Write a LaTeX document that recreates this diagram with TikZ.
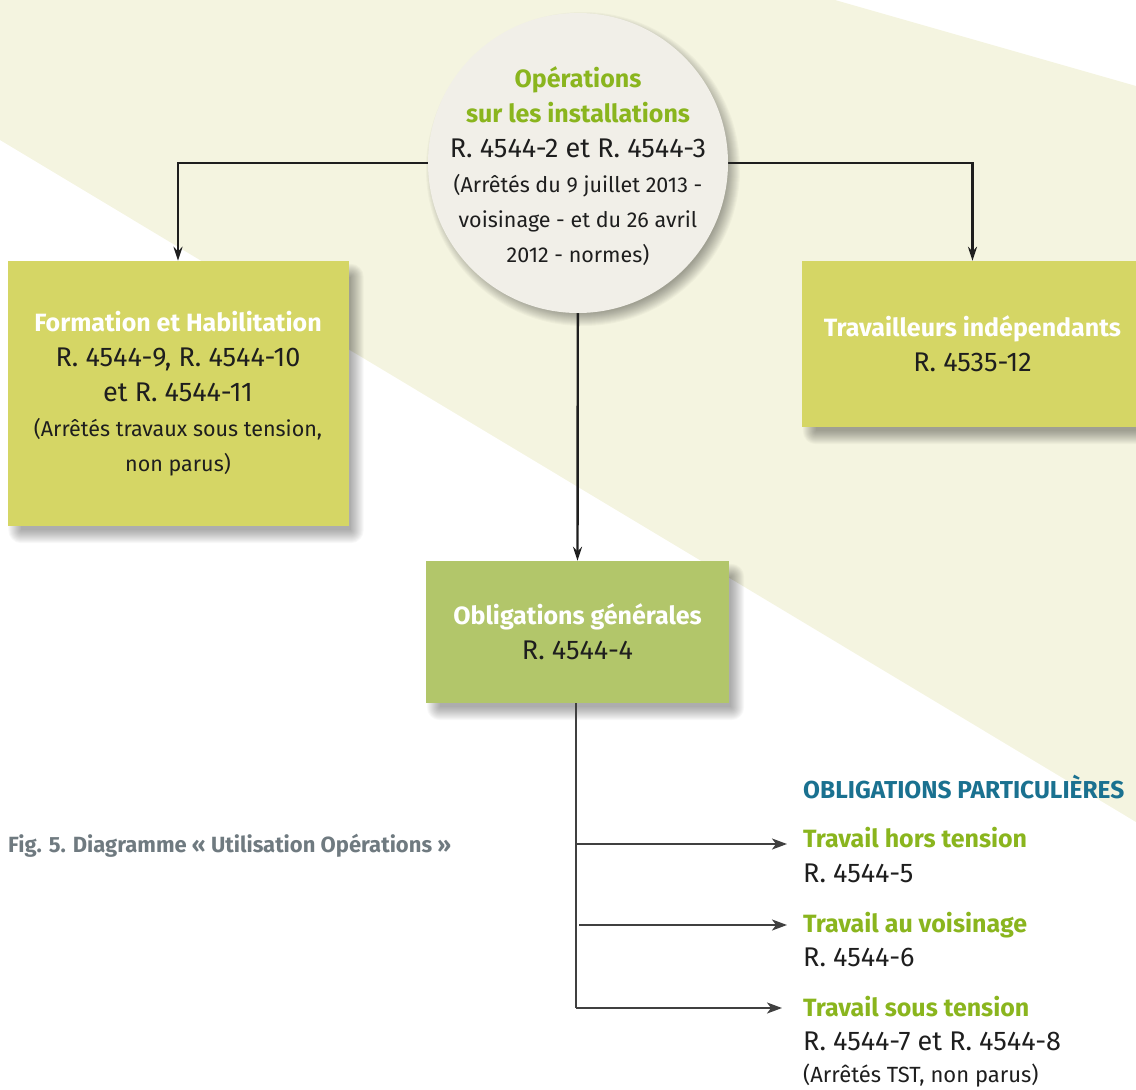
\documentclass[tikz,border=0pt]{standalone}
\usepackage{fontspec}
\setmainfont{Fira Sans}
\usetikzlibrary{arrows.meta,calc}
\definecolor{cream}{HTML}{F4F4E0}
\definecolor{disc}{HTML}{F1EFE8}
\definecolor{boxyellow}{HTML}{D5D665}
\definecolor{boxgreen}{HTML}{B2C66A}
\definecolor{leaf}{HTML}{8AB51E}
\definecolor{petrol}{HTML}{1A7190}
\definecolor{ink}{HTML}{1E1E1E}
\definecolor{slate}{HTML}{6F7A80}
\newcommand\smallnote{\fontsize{21.5}{35}\selectfont}
\pgfdeclarelayer{backdrop}
\pgfdeclarelayer{shade}
\pgfsetlayers{backdrop,shade,main}
\begin{document}
\begin{tikzpicture}[x=1pt,y=-1pt,
  panel/.style={rectangle, inner sep=0pt, text=ink, align=center,
      font=\fontsize{27}{35}\selectfont},
  maintext/.style={inner sep=0pt, text=ink, align=center,
      font=\fontsize{27}{35}\selectfont},
  topline/.style={draw=ink, line width=2.4pt, -{Stealth[length=14pt,width=9pt]}},
  subline/.style={draw=ink!85, line width=2pt},
  subarrow/.style={subline, -{Stealth[length=15pt,width=11pt,inset=4pt]}},
  itemtitle/.style={anchor=base west, inner sep=0pt, text=leaf,
      font=\fontsize{25}{30}\selectfont\bfseries},
  itemref/.style={anchor=base west, inner sep=0pt, text=ink,
      font=\fontsize{27}{30}\selectfont},
  itemnote/.style={anchor=base west, inner sep=0pt, text=ink,
      font=\fontsize{22}{26}\selectfont},
  shadelayer/.style={fill=black, opacity=0.026},
]
\useasboundingbox (0,0) rectangle (1136,1090);
% diagonal background band
\begin{pgfonlayer}{backdrop}
\fill[cream] (0,0) -- (835,0) -- (1136,86) -- (1136,822) -- (0,140) -- cycle;
\end{pgfonlayer}

% boxes
\node[panel, fill=boxyellow, minimum width=341pt, minimum height=265pt] (fh) at (178,393.5)
  {{\fontsize{25}{35}\selectfont\bfseries\color{white}Formation et Habilitation}\\
   R. 4544-9, R. 4544-10\\
   et R. 4544-11\\
   {\smallnote (Arrêtés travaux sous tension,}\\
   {\smallnote non parus)}};
\node[panel, fill=boxyellow, minimum width=341pt, minimum height=166pt] (ti) at (972.5,344)
  {{\fontsize{25}{35}\selectfont\bfseries\color{white}Travailleurs indépendants}\\
   R. 4535-12};
\node[panel, fill=boxgreen, minimum width=303pt, minimum height=142pt] (og) at (577.5,632)
  {{\fontsize{25}{35}\selectfont\bfseries\color{white}Obligations générales}\\
   R. 4544-4};

% connectors from the disc
\draw[topline] (578,163) -| (fh.north);
\draw[topline] (578,163) -| (ti.north);
\draw[topline] (578,163) -- (og.north);

% central disc
\node[circle, fill=disc, minimum size=300pt, inner sep=0pt] (op) at (578,163) {};
\node[maintext] (opt) at (578,166)
  {{\fontsize{25}{35}\selectfont\bfseries\color{leaf}Opérations}\\
   {\fontsize{25}{35}\selectfont\bfseries\color{leaf}sur les installations}\\
   R. 4544-2 et R. 4544-3\\
   {\smallnote (Arrêtés du 9 juillet 2013 -}\\
   {\smallnote voisinage - et du 26 avril}\\
   {\smallnote 2012 - normes)}};

% soft drop shadows, built from nested translucent layers
\begin{pgfonlayer}{shade}
\foreach \n in {fh,ti,og}{
  \foreach \k in {0,...,13}{
    \fill[shadelayer, rounded corners=\k pt]
      ($(\n.north west)+(14-\k,16-\k)$) rectangle ($(\n.south east)+(2+\k,4+\k)$);
  }
}
\foreach \k in {0,...,13}{
  \fill[shadelayer] ($(op.center)+(5,6)$) circle[radius=144+\k];
}
\end{pgfonlayer}

% specific obligations
\node[anchor=base west, inner sep=0pt, text=petrol,
      font=\fontsize{24.5}{28}\selectfont\bfseries] (op2) at (803,798)
  {OBLIGATIONS PARTICULIÈRES};
\node[itemtitle] (hors) at (803,847) {Travail hors tension};
\node[itemref] (horsr) at (803,882) {R. 4544-5};
\node[itemtitle] (vois) at (803,932) {Travail au voisinage};
\node[itemref] (voisr) at (803,966) {R. 4544-6};
\node[itemtitle] (sous) at (803,1016) {Travail sous tension};
\node[itemref] (sousr) at (803,1050) {R. 4544-7 et R. 4544-8};
\node[itemnote] (sousn) at (803,1082) {(Arrêtés TST, non parus)};

\coordinate (b1) at (576,844);
\coordinate (b2) at (579,925);
\coordinate (b3) at (576,1008);
\coordinate (e1) at (787,844);
\coordinate (e2) at (787,925);
\coordinate (e3) at (782,1008);
\draw[subline] (og.south -| b3) -- (b3);
\draw[subarrow] (b1) -- (e1);
\draw[subarrow] (b2) -- (e2);
\draw[subarrow] (b3) -- (e3);

% caption
\node[anchor=base west, inner sep=0pt, text=slate,
      font=\fontsize{22}{26}\selectfont\bfseries] (cap) at (8,852)
  {Fig. 5. Diagramme « Utilisation Opérations »};
\end{tikzpicture}
\end{document}
